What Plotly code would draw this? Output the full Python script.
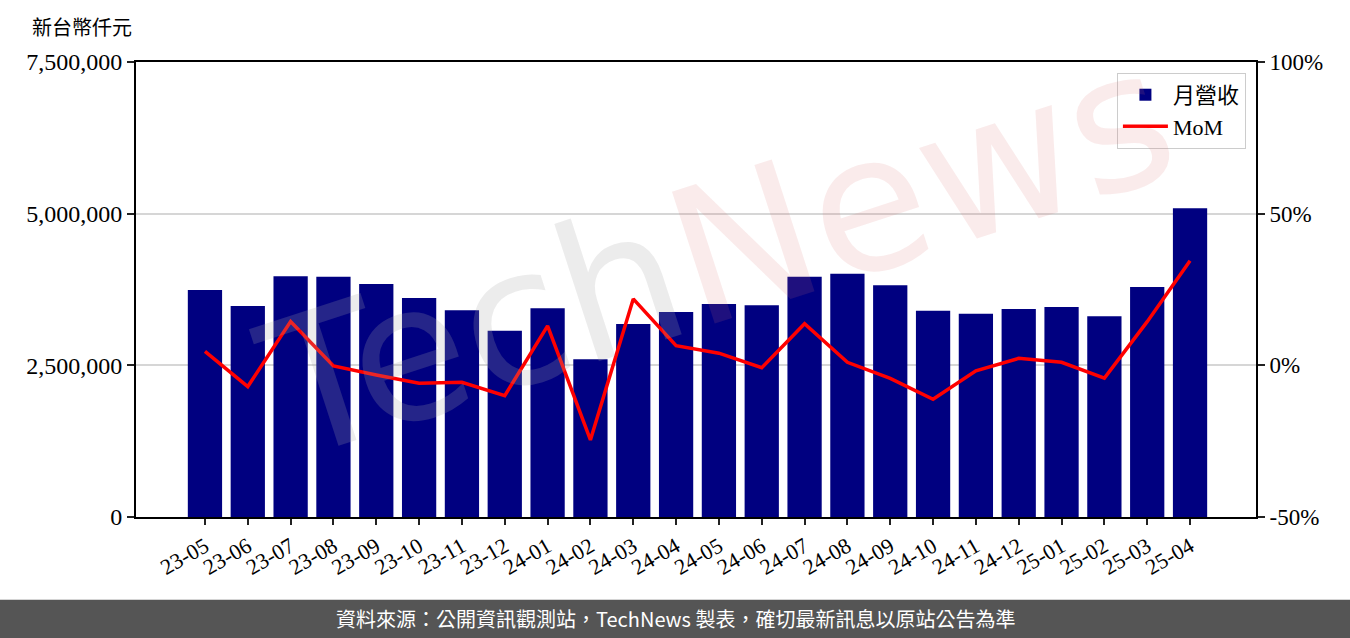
import plotly.graph_objects as go

months = ["23-05", "23-06", "23-07", "23-08", "23-09", "23-10", "23-11", "23-12",
          "24-01", "24-02", "24-03", "24-04", "24-05", "24-06", "24-07", "24-08",
          "24-09", "24-10", "24-11", "24-12", "25-01", "25-02", "25-03", "25-04"]

# 月營收 (新台幣仟元)
revenue = [3740000, 3480000, 3970000, 3960000, 3840000, 3610000, 3410000, 3070000,
           3440000, 2600000, 3180000, 3380000, 3510000, 3490000, 3960000, 4010000,
           3820000, 3400000, 3350000, 3430000, 3460000, 3310000, 3790000, 5090000]

# MoM (%)
mom = [4.6, -7.0, 14.4, -0.2, -3.2, -5.9, -5.6, -10.0,
       13.0, -24.6, 21.9, 6.5, 4.0, -0.8, 13.7, 1.0,
       -4.3, -11.2, -1.8, 2.3, 1.0, -4.2, 14.4, 34.5]

left_ticks = [0, 2500000, 5000000, 7500000]
left_labels = ["0", "2,500,000", "5,000,000", "7,500,000"]
right_ticks = [-50, 0, 50, 100]
right_labels = ["-50%", "0%", "50%", "100%"]

serif = "Liberation Serif, Noto Sans CJK TC, serif"

fig = go.Figure()
fig.add_trace(go.Bar(x=months, y=revenue, name="月營收", marker_color="#000080",
                     marker_line_width=0, width=0.8))
fig.add_trace(go.Scatter(x=months, y=mom, name="MoM", mode="lines",
                         line=dict(color="#ff0000", width=3.5), yaxis="y2"))

fig.update_layout(
    width=1350, height=638,
    margin=dict(l=136, r=94, t=62, b=121),
    paper_bgcolor="white", plot_bgcolor="white",
    font=dict(family=serif, size=22, color="black"),
    showlegend=True,
    legend=dict(x=0.991, y=0.976, xanchor="right", yanchor="top",
                bgcolor="white", bordercolor="#cccccc", borderwidth=1,
                font=dict(size=22), traceorder="normal", itemwidth=45),
    xaxis=dict(type="category", range=[-1.61, 24.54], tickangle=-30,
               ticks="outside", ticklen=6, tickwidth=2, tickcolor="#222",
               showline=True, linecolor="black", linewidth=2, mirror=True,
               showgrid=False, tickfont=dict(size=22), automargin=False),
    yaxis=dict(range=[0, 7500000], tickvals=left_ticks, ticktext=left_labels,
               ticks="outside", ticklen=7, tickwidth=2, tickcolor="#222",
               showline=True, linecolor="black", linewidth=2,
               showgrid=True, gridcolor="#d6d6d6", gridwidth=2, zeroline=False,
               tickfont=dict(size=24), automargin=False),
    yaxis2=dict(range=[-50, 100], tickvals=right_ticks, ticktext=right_labels,
                overlaying="y", side="right", ticks="outside", ticklen=7,
                tickwidth=2, tickcolor="#222", showline=True, linecolor="black",
                linewidth=2, showgrid=False, zeroline=False,
                tickfont=dict(size=23), automargin=False),
    bargap=0.2,
)

# y-axis unit label
fig.add_annotation(text="新台幣仟元", xref="paper", yref="paper", x=-0.095, y=1.077,
                   xanchor="left", yanchor="middle", showarrow=False,
                   font=dict(size=20, family="Noto Sans CJK TC"))

# faint watermark
fig.add_annotation(text="<span style='color:rgba(170,170,170,0.22)'>Tech</span>"
                        "<span style='color:rgba(220,110,110,0.14)'>News</span>",
                   xref="paper", yref="paper", x=0.52, y=0.58, showarrow=False,
                   textangle=-18, font=dict(size=190, family="DejaVu Sans"))

# footer band
fig.add_shape(type="rect", xref="paper", yref="paper", x0=-0.13, x1=1.1,
              y0=-0.28, y1=-0.182, fillcolor="#555555", line_width=0, layer="below")
fig.add_annotation(text="資料來源：公開資訊觀測站，TechNews 製表，確切最新訊息以原站公告為準",
                   xref="paper", yref="paper", x=(675 - 136) / 1120, y=-0.224,
                   xanchor="center", yanchor="middle", showarrow=False,
                   font=dict(size=20, color="white", family="Noto Sans CJK TC"))

# drop the default page margin so the figure sits at the window's corner
fig.write_html("out.html", config={"displayModeBar": False},
               post_script="document.body.style.margin='0';")
